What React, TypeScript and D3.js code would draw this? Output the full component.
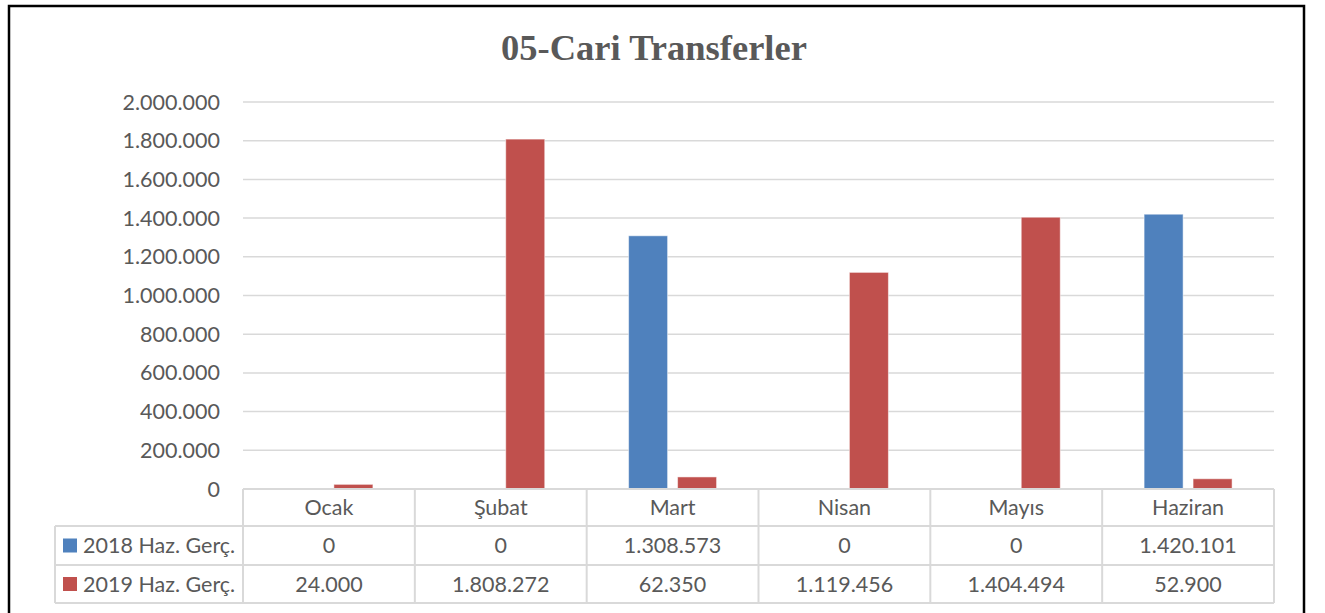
import React from "react";
import * as d3 from "d3";

const categories = ["Ocak", "Şubat", "Mart", "Nisan", "Mayıs", "Haziran"];
const seriesNames = ["2018 Haz. Gerç.", "2019 Haz. Gerç."];
const values2018 = [0, 0, 1308573, 0, 0, 1420101];
const values2019 = [24000, 1808272, 62350, 1119456, 1404494, 52900];
const yTicks = [0, 200000, 400000, 600000, 800000, 1000000, 1200000, 1400000, 1600000, 1800000, 2000000];
const colors = ["#4F81BD", "#C0504D"];
const title = "05-Cari Transferler";

const W = 1325;
const H = 613;
const plotLeft = 243;
const plotRight = 1274;
const plotTop = 102;
const plotBottom = 489;
const tableLeft = 55;
const rowBottoms = [526, 565, 603];

const fmt = (v: number) =>
  String(Math.round(v)).replace(/\B(?=(\d{3})+(?!\d))/g, ".");

export default function App() {
  const x = d3.scaleBand<string>().domain(categories).range([plotLeft, plotRight]).padding(0);
  const y = d3.scaleLinear().domain([0, 2000000]).range([plotBottom, plotTop]);
  const band = x.bandwidth();
  const bw = band * 0.227;
  const gap = band * 0.058;
  const off = (band - 2 * bw - gap) / 2;
  const series = [values2018, values2019];
  const textColor = "#595959";
  const gridColor = "#D9D9D9";
  const font = "Lato, 'Open Sans', sans-serif";
  const fs = 21.5;

  const rowCenters = [
    (plotBottom + rowBottoms[0]) / 2,
    (rowBottoms[0] + rowBottoms[1]) / 2,
    (rowBottoms[1] + rowBottoms[2]) / 2,
  ];

  return (
    <svg
      width={W}
      height={H}
      style={{ position: "fixed", left: 0, top: 0, background: "#fff" }}
    >
      <rect x={0} y={0} width={W} height={H} fill="#fff" />
      <rect x={9} y={6} width={1295} height={H + 20} fill="none" stroke="#000" strokeWidth={2.5} />
      <text
        x={654}
        y={60}
        textAnchor="middle"
        fontFamily="'Liberation Serif', 'Times New Roman', serif"
        fontWeight="bold"
        fontSize={36.5}
        fill={textColor}
      >
        {title}
      </text>

      {yTicks.map((t) => (
        <line
          key={"g" + t}
          x1={plotLeft}
          x2={plotRight}
          y1={y(t)}
          y2={y(t)}
          stroke={gridColor}
          strokeWidth={1.5}
        />
      ))}
      {yTicks.map((t) => (
        <text
          key={"yl" + t}
          x={220}
          y={y(t)}
          dy="0.35em"
          textAnchor="end"
          fontFamily={font}
          fontSize={fs}
          fill={textColor}
        >
          {fmt(t)}
        </text>
      ))}

      {series.map((vals, si) =>
        vals.map((v, ci) =>
          v > 0 ? (
            <rect
              key={`b${si}-${ci}`}
              x={(x(categories[ci]) as number) + off + si * (bw + gap)}
              y={y(v)}
              width={bw}
              height={plotBottom - y(v)}
              fill={colors[si]}
              stroke="#ffffff"
              strokeOpacity={0.5}
              strokeWidth={1}
            />
          ) : null
        )
      )}

      <line x1={plotLeft} x2={plotRight} y1={plotBottom} y2={plotBottom} stroke={gridColor} strokeWidth={2} />
      {rowBottoms.map((rb) => (
        <line key={"rb" + rb} x1={tableLeft} x2={plotRight} y1={rb} y2={rb} stroke={gridColor} strokeWidth={2} />
      ))}
      <line x1={tableLeft} x2={tableLeft} y1={rowBottoms[0]} y2={rowBottoms[2]} stroke={gridColor} strokeWidth={2} />
      {[...categories.map((c) => x(c) as number), plotRight].map((xv, i) => (
        <line key={"v" + i} x1={xv} x2={xv} y1={plotBottom} y2={rowBottoms[2]} stroke={gridColor} strokeWidth={2} />
      ))}
      {categories.map((c) => (
        <text
          key={"c" + c}
          x={(x(c) as number) + band / 2}
          y={rowCenters[0]}
          dy="0.35em"
          textAnchor="middle"
          fontFamily={font}
          fontSize={fs}
          fill={textColor}
        >
          {c}
        </text>
      ))}
      {series.map((vals, si) => (
        <g key={"row" + si}>
          <rect x={63} y={rowCenters[si + 1] - 7} width={14} height={14} fill={colors[si]} />
          <text
            x={83}
            y={rowCenters[si + 1]}
            dy="0.35em"
            fontFamily={font}
            fontSize={fs}
            fill={textColor}
          >
            {seriesNames[si]}
          </text>
          {vals.map((v, ci) => (
            <text
              key={`t${si}-${ci}`}
              x={(x(categories[ci]) as number) + band / 2}
              y={rowCenters[si + 1]}
              dy="0.35em"
              textAnchor="middle"
              fontFamily={font}
              fontSize={fs}
              fill={textColor}
            >
              {fmt(v)}
            </text>
          ))}
        </g>
      ))}
    </svg>
  );
}
